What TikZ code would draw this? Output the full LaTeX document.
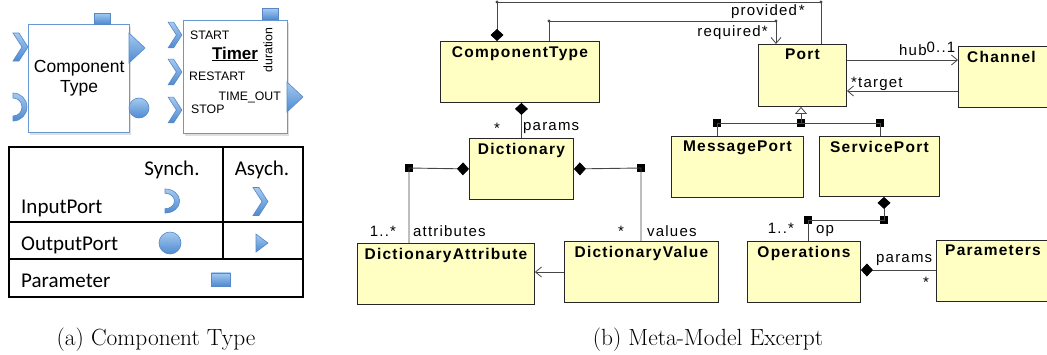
\documentclass[tikz,border=0pt]{standalone}
\usepackage{fontspec}
\newfontfamily\umlfont[LetterSpace=8]{Liberation Sans}
\newfontfamily\portfont{Liberation Sans}
\newfontfamily\tabfont{Carlito}
\usetikzlibrary{arrows.meta,positioning,calc,shadows}

\definecolor{umlyellow}{RGB}{255,255,196}
\definecolor{umlline}{RGB}{70,70,70}
\definecolor{portlight}{RGB}{165,202,240}
\definecolor{portdark}{RGB}{78,138,208}
\definecolor{portedge}{RGB}{86,136,200}
\definecolor{compedge}{RGB}{104,152,212}

\tikzset{
  umlclass/.style={draw=black!85, fill=umlyellow, line width=0.9pt, anchor=north west, inner sep=0pt},
  umltitle/.style={font=\umlfont\bfseries\fontsize{15.5}{18}\selectfont, anchor=north, yshift=-5pt, inner sep=0pt},
  umllabel/.style={font=\umlfont\fontsize{15}{18}\selectfont, inner sep=0pt},
  assoc/.style={draw=umlline, line width=0.9pt},
  navig/.style={assoc, -{Straight Barb[length=6pt,width=10pt,line width=0.8pt]}},
  compos/.style={assoc, {Diamond[length=12pt,width=13pt,color=black]}-},
  junction/.style={fill=black, minimum size=8pt, inner sep=0pt},
  compbox/.style={draw=compedge, line width=1.4pt, fill=white, anchor=north west, inner sep=0pt,
                  drop shadow={opacity=0.25, shadow xshift=1.5pt, shadow yshift=-2pt}},
  porttext/.style={font=\portfont\fontsize{12.3}{14}\selectfont, inner sep=0pt},
  tabtext/.style={font=\tabfont\fontsize{21}{24}\selectfont, inner sep=0pt},
  tabline/.style={draw=black, line width=1.3pt},
  caption/.style={font=\fontsize{23.4}{28}\selectfont, inner sep=0pt},
  portshape/.style={draw=portedge, line width=0.6pt, top color=portlight, bottom color=portdark},
  pics/asyncin/.style={code={\draw[portshape] (-7.5,-14) -- (-1.5,-14) -- (7.5,0) -- (-1.5,14) -- (-7.5,14) -- (1.5,0) -- cycle;}},
  pics/syncin/.style={code={\draw[portshape] (0,-14) arc[start angle=-90,end angle=90,radius=14] -- (0,9) arc[start angle=90,end angle=-90,radius=9] -- cycle;}},
  pics/syncout/.style={code={\draw[portshape] (0,0) circle[radius=10];}},
  pics/asyncout/.style={code={\draw[portshape] (0,-15) -- (16,0) -- (0,15) -- cycle;}},
  pics/param/.style={code={\draw[portshape] (-8,-5.5) rectangle (8,5.5);}},
}

\begin{document}
\begin{tikzpicture}[x=1pt,y=-1pt]
  \useasboundingbox (0,0) rectangle (1047,354);
  \clip (0,0) rectangle (1047,354);

  % (a) component type
  \node[compbox, minimum width=101pt, minimum height=108pt, align=center,
        font=\portfont\fontsize{17.5}{20}\selectfont] (ctbox) at (28,24) {Component\\Type};
  \pic at (20.5,47) {asyncin};
  \pic at (13,107) {syncin};
  \pic at (129,48) {asyncout};
  \pic at (139,108) {syncout};
  \pic at (102,18.5) {param};

  \node[compbox, minimum width=104pt, minimum height=113pt] (timer) at (183,20) {};
  \pic[scale=0.92] at (175,35) {asyncin};
  \pic[scale=0.92] at (175,72) {asyncin};
  \pic[scale=0.92] at (175,110) {asyncin};
  \pic at (287,97) {asyncout};
  \pic at (270,14) {param};
  \node[porttext, anchor=base west] (tstart) at (190,39) {START};
  \node[porttext, anchor=base west] (trestart) at (189,80) {RESTART};
  \node[porttext, anchor=base east] (ttimeout) at (281,100) {TIME\_OUT};
  \node[porttext, anchor=base west] (tstop) at (191,113) {STOP};
  \node[font=\portfont\bfseries\fontsize{17}{20}\selectfont, anchor=base, inner sep=0pt] (tname) at (235,59) {\underline{Timer}};
  \node[porttext, rotate=90] (tdur) at (268,50) {duration};

  % legend table
  \draw[tabline] (9,147) rectangle (303,297);
  \draw[tabline] (9,222) -- (303,222);
  \draw[tabline] (9,259) -- (303,259);
  \draw[tabline] (223,147) -- (223,259);
  \node[tabtext, anchor=base] (hsync) at (172,175) {Synch.};
  \node[tabtext, anchor=base] (hasync) at (262,175) {Asych.};
  \node[tabtext, anchor=base west] (rin) at (21,213) {InputPort};
  \node[tabtext, anchor=base west] (rout) at (21,250) {OutputPort};
  \node[tabtext, anchor=base west] (rpar) at (21,287) {Parameter};
  \pic[xscale=1.05, yscale=0.86] at (165,201) {syncin};
  \pic at (260.5,201.5) {asyncin};
  \pic[scale=1.1] at (170,243) {syncout};
  \pic[xscale=0.75,yscale=0.6] at (256,243) {asyncout};
  \pic[scale=1.2] at (221,279.5) {param};

  \node[caption] (capa) at (156,340) {(a) Component Type};

  % (b) meta-model
  \node[umlclass, minimum width=159pt, minimum height=61pt, label={[umltitle]north:ComponentType}] (ctype) at (440,41) {};
  \node[umlclass, minimum width=104pt, minimum height=61pt, label={[umltitle]north:Dictionary}] (dict) at (469,138) {};
  \node[umlclass, minimum width=177pt, minimum height=61pt, label={[umltitle]north:DictionaryAttribute}] (dattr) at (357,243) {};
  \node[umlclass, minimum width=154pt, minimum height=61pt, label={[umltitle]north:DictionaryValue}] (dval) at (564,241) {};
  \node[umlclass, minimum width=88pt, minimum height=62pt, label={[umltitle]north:Port}] (port) at (758,44) {};
  \node[umlclass, minimum width=110pt, minimum height=61pt, label={[umltitle, anchor=north west, xshift=9pt]north west:Channel}] (channel) at (958,46) {};
  \node[umlclass, minimum width=132pt, minimum height=61pt, label={[umltitle]north:MessagePort}] (mport) at (671,136) {};
  \node[umlclass, minimum width=120pt, minimum height=60pt, label={[umltitle]north:ServicePort}] (sport) at (819,136) {};
  \node[umlclass, minimum width=113pt, minimum height=61pt, label={[umltitle]north:Operations}] (ops) at (747,241) {};
  \node[umlclass, minimum width=130pt, minimum height=61pt, label={[umltitle, anchor=north west, xshift=9pt]north west:Parameters}] (params) at (936,240) {};

  % provided / required
  \coordinate (pv1) at (497,2);
  \coordinate (pv2) at (821,2);
  \coordinate (rq1) at (549,21);
  \coordinate (rq2) at (776,21);
  \draw[compos] (ctype.north -| pv1) -- (pv1) -- (pv2) -- (pv2 |- port.north);
  \draw[navig] (ctype.north -| rq1) -- (rq1) -- (rq2) -- (rq2 |- port.north);
  \foreach \p in {pv1,pv2,rq1,rq2}
    \fill[umlline] (\p) circle[radius=1.6];
  \node[umllabel, anchor=base east] (lprov) at (805,15) {provided\kern2pt*};
  \node[umllabel, anchor=base east] (lreq) at (768,36) {required*};

  % hub / target
  \draw[navig] ([yshift=-16pt]port.north east) -- ([yshift=-16pt]port.north east -| channel.west);
  \coordinate (tgt) at ([yshift=-47pt]port.north east);
  \draw[navig] (tgt -| channel.west) -- (tgt);
  \node[umllabel, anchor=base west] (lhub) at (899,55) {hub\raisebox{2.5pt}{0..1}};
  \node[umllabel, anchor=base west] (ltgt) at (851,87) {*target};

  % port kinds
  \node[junction] (gm) at (801,123) {};
  \node[junction] (gl) at (717,123) {};
  \node[junction] (gr) at (880,123) {};
  \draw[assoc, -{Triangle[open, length=7pt, width=12pt, line width=0.8pt]}] (gm.center) -- (gm.center |- port.south);
  \draw[assoc] (gl.center |- mport.north) -- (gl.center) -- (gr.center) -- (gr.center |- sport.north);

  % operations
  \node[junction] (so1) at (884,220) {};
  \node[junction] (so2) at (808,220) {};
  \draw[compos] (sport.south -| so1.center) -- (so1.center) -- (so2.center) -- (so2.center |- ops.north);
  \node[umllabel, anchor=base] (lopm) at (781,233) {1..*};
  \node[umllabel, anchor=base west] (lop) at (816,233) {op};
  \draw[compos] ([yshift=-29pt]ops.north east) -- ([yshift=-29pt]ops.north east -| params.west);
  \node[umllabel, anchor=base west] (lpar) at (876,262) {params};
  \node[umllabel] (lparm) at (926,282) {*};

  % dictionary
  \draw[compos] (ctype.south -| dict.north) -- (dict.north);
  \node[umllabel] (ldictm) at (497,128) {*};
  \node[umllabel, anchor=base west] (ldict) at (523,130) {params};
  \node[junction] (jda) at (409,168) {};
  \node[junction] (jdv) at (641,168) {};
  \draw[compos] (dict.west) -- (jda.center) -- (jda.center |- dattr.north);
  \draw[compos] (dict.east) -- (jdv.center) -- (jdv.center |- dval.north);
  \node[umllabel, anchor=base] (lattrm) at (383,236) {1..*};
  \node[umllabel, anchor=base west] (lattr) at (413,236) {attributes};
  \node[umllabel] (lvalm) at (621,231) {*};
  \node[umllabel, anchor=base west] (lval) at (647,236) {values};
  \draw[navig] ([yshift=-31pt]dval.north west) -- ([yshift=-31pt]dval.north west -| dattr.east);

  \node[caption] (capb) at (708,340) {(b) Meta-Model Excerpt};
\end{tikzpicture}
\end{document}
